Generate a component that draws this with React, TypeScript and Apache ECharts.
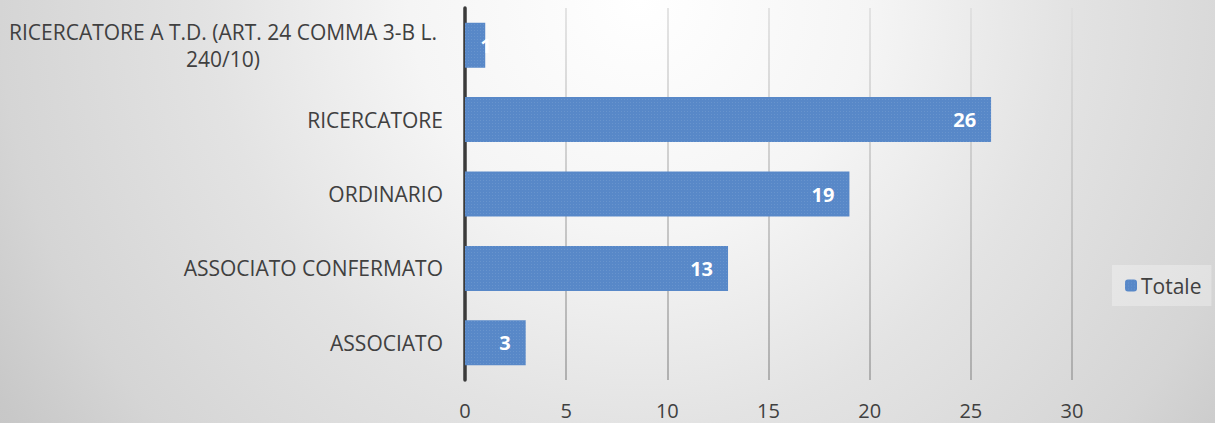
import React, { useEffect, useRef } from "react";
import * as echarts from "echarts";

const categories = [
  "ASSOCIATO",
  "ASSOCIATO CONFERMATO",
  "ORDINARIO",
  "RICERCATORE",
  "RICERCATORE A T.D. (ART. 24 COMMA 3-B L. 240/10)",
];
const totale = [3, 13, 19, 26, 1];
const seriesName = "Totale";
const xTicks = [0, 5, 10, 15, 20, 25, 30];

const FONT = "'Open Sans', 'Noto Sans', sans-serif";
const TEXT = "#404040";

export default function App() {
  const ref = useRef<HTMLDivElement>(null);
  useEffect(() => {
    document.body.style.margin = "0";
    const chart = echarts.init(ref.current!, null, { renderer: "svg" });
    const decal = {
      symbol: "rect",
      symbolSize: 0.6,
      dashArrayX: [1, 2],
      dashArrayY: [1, 2],
      color: "rgba(255,255,255,0.32)",
    };
    chart.setOption({
      animation: false,
      backgroundColor: "transparent",
      textStyle: { fontFamily: FONT },
      grid: { left: 464, right: 143, top: 8, bottom: 43, containLabel: false },
      legend: {
        data: [seriesName],
        left: 1112,
        top: 265,
        padding: [10, 10, 10, 13],
        backgroundColor: "rgba(255,255,255,0.3)",
        itemWidth: 12,
        itemHeight: 12,
        itemGap: 0,
        textStyle: { fontSize: 21, color: TEXT, fontFamily: FONT, padding: [0, 0, 0, -1] },
      },
      xAxis: {
        type: "value",
        min: xTicks[0],
        max: xTicks[xTicks.length - 1],
        interval: xTicks[1] - xTicks[0],
        axisLine: { show: false },
        axisTick: { show: false },
        axisLabel: { fontSize: 20, color: TEXT, margin: 20, fontFamily: FONT },
        splitLine: {
          show: true,
          lineStyle: {
            width: 1.6,
            color: new echarts.graphic.LinearGradient(
              0, 8, 0, 380,
              [
                { offset: 0, color: "#dedede" },
                { offset: 1, color: "#a2a2a2" },
              ],
              true
            ),
          },
        },
      },
      yAxis: {
        type: "category",
        data: categories,
        axisLine: { show: true, lineStyle: { color: "#3a3a3a", width: 3.5 } },
        axisTick: { show: false },
        splitLine: { show: false },
        axisLabel: {
          fontSize: 21,
          color: TEXT,
          margin: 22,
          fontFamily: FONT,
          formatter: (v: string) => {
            if (v.length > 30) {
              const idx = v.lastIndexOf(" ");
              return "{c|" + v.slice(0, idx) + "}\n{c|" + v.slice(idx + 1) + "}";
            }
            return v;
          },
          rich: {
            c: {
              width: 440,
              align: "center",
              fontSize: 21,
              color: TEXT,
              fontFamily: FONT,
              lineHeight: 27,
            },
          },
        },
      },
      series: [
        {
          name: seriesName,
          type: "bar",
          barWidth: 45,
          data: totale.map((v) =>
            v < 2
              ? { value: v, label: { position: "right", distance: -5 } }
              : v
          ),
          itemStyle: { color: "#5888c8", decal },
          label: {
            show: true,
            position: "insideRight",
            distance: 15,
            color: "#ffffff",
            fontWeight: "bold",
            fontSize: 20,
            fontFamily: FONT,
          },
        },
      ],
    });
    return () => chart.dispose();
  }, []);
  return (
    <div
      ref={ref}
      style={{
        width: 1215,
        height: 423,
        background:
          "radial-gradient(circle 820px at 640px 0px, #ffffff 0%, #f5f5f5 28%, #e3e3e3 52%, #d5d5d5 78%, #c8c8c8 92%, #c4c4c4 100%)",
      }}
    />
  );
}
